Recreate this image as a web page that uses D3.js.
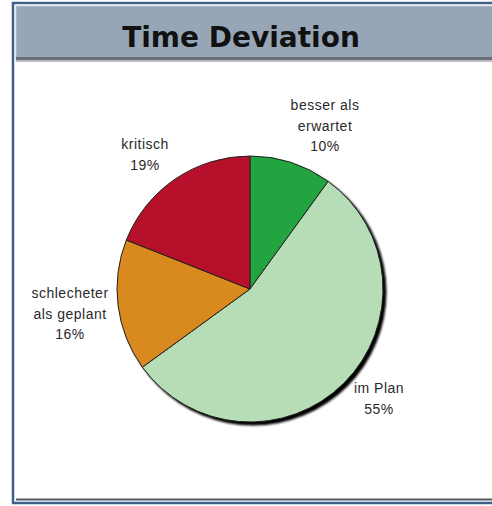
<!DOCTYPE html>
<html><head><meta charset="utf-8">
<script src="https://cdn.jsdelivr.net/npm/d3@7/dist/d3.min.js"></script>
<style>body{margin:0;background:#fff}svg{display:block}</style>
</head><body>
<script>
const categories = ["besser als erwartet", "im Plan", "schlecheter als geplant", "kritisch"];
const labelLines = [["besser als", "erwartet"], ["im Plan"], ["schlecheter", "als geplant"], ["kritisch"]];
const values = [10, 55, 16, 19];
const colors = ["#22a441", "#b6ddb5", "#d98a1f", "#b6102a"];
const title = "Time Deviation";

const W = 492, H = 506;
const svg = d3.select("body").append("svg").attr("width", W).attr("height", H);

const defs = svg.append("defs");
defs.append("filter").attr("id", "blur").append("feGaussianBlur").attr("stdDeviation", 0.8);

// frame
svg.append("rect").attr("x", 13).attr("y", 3).attr("width", 490).attr("height", 500)
  .attr("fill", "#fff").attr("stroke", "#3e5f8a").attr("stroke-width", 2.5);
svg.append("line").attr("x1", 16).attr("x2", W).attr("y1", 499.5).attr("y2", 499.5)
  .attr("stroke", "#555a60").attr("stroke-width", 2);
// header
svg.append("rect").attr("x", 15.5).attr("y", 5.5).attr("width", 480).attr("height", 55)
  .attr("fill", "#97a6b7").attr("stroke", "#e4e9ef").attr("stroke-width", 1.5);
svg.append("rect").attr("x", 16).attr("y", 57).attr("width", W).attr("height", 3).attr("fill", "#6a6f76");
svg.append("rect").attr("x", 16).attr("y", 60).attr("width", W).attr("height", 2).attr("fill", "#b9bcc0");

svg.append("text").attr("x", 241).attr("y", 47).attr("text-anchor", "middle")
  .attr("font-family", "'DejaVu Sans', Verdana, sans-serif").attr("font-weight", "bold")
  .attr("font-size", 28).attr("fill", "#111").text(title);

// pie
const cx = 250, cy = 289, r = 133;
const g = svg.append("g").attr("transform", `translate(${cx},${cy})`);
const pie = d3.pie().sort(null).value(d => d);
const arcs = pie(values);
const arc = d3.arc().innerRadius(0).outerRadius(r);

g.append("circle").attr("cx", 3).attr("cy", 3).attr("r", r + 0.5).attr("fill", "#000")
  .attr("filter", "url(#blur)");
g.selectAll("path.slice").data(arcs).join("path").attr("class", "slice")
  .attr("d", arc).attr("fill", (d, i) => colors[i])
  .attr("stroke", "#222").attr("stroke-width", 1);

// labels
const labelPos = [[325, 105], [379, 388], [70, 293], [145, 144]];
const lab = svg.append("g").attr("font-family", "'Liberation Sans', Arial, sans-serif")
  .attr("font-size", 14).attr("fill", "#2a2a2a").attr("letter-spacing", 0.5)
  .attr("text-anchor", "middle");
arcs.forEach((a, i) => {
  const lines = labelLines[i].concat([values[i] + "%"]);
  const t = lab.append("text").attr("x", labelPos[i][0]).attr("y", labelPos[i][1] + 5);
  lines.forEach((l, j) => t.append("tspan").attr("x", labelPos[i][0]).attr("dy", j ? 20.5 : 0).text(l));
});
</script>
</body></html>
